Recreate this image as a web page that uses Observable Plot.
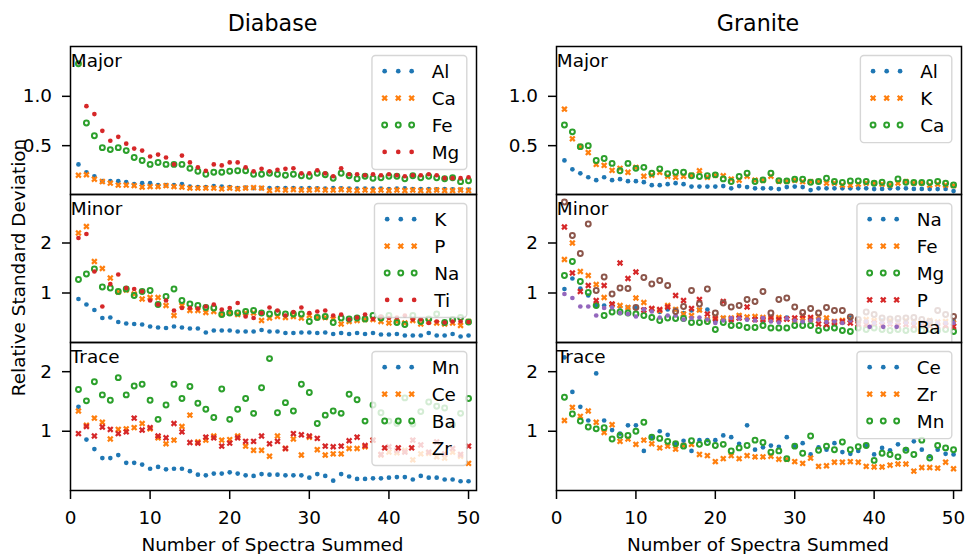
<!DOCTYPE html>
<html><head><meta charset="utf-8">
<script src="https://cdn.jsdelivr.net/npm/d3@7"></script>
<script src="https://cdn.jsdelivr.net/npm/@observablehq/plot@0.6"></script>
<style>
body{margin:0;background:#fff;}
#chart{position:relative;width:969px;height:554px;font-family:"DejaVu Sans",sans-serif;overflow:hidden;}
#chart svg{position:absolute;overflow:visible;}
</style></head><body><div id="chart"></div>
<script>
// ---------- data ----------
const spectra = [1,2,3,4,5,6,7,8,9,10,11,12,13,14,15,16,17,18,19,20,21,22,23,24,25,26,27,28,29,30,31,32,33,34,35,36,37,38,39,40,41,42,43,44,45,46,47,48,49,50];
const xTicks = [0,10,20,30,40,50];
const columnTitles = ["Diabase","Granite"];
const rowLabels = ["Major","Minor","Trace"];

// Diabase – Major
const dMajAl = [0.31,0.23,0.19,0.14,0.14,0.14,0.13,0.11,0.12,0.12,0.10,0.10,0.10,0.11,0.085,0.08,0.08,0.09,0.085,0.08,0.07,0.075,0.07,0.07,0.07,0.07,0.07,0.07,0.068,0.07,0.068,0.065,0.07,0.068,0.065,0.065,0.066,0.065,0.065,0.06,0.065,0.068,0.06,0.06,0.06,0.058,0.06,0.058,0.055,0.055];
const dMajCa = [0.20,0.205,0.16,0.136,0.12,0.10,0.10,0.095,0.08,0.085,0.085,0.095,0.085,0.08,0.07,0.07,0.07,0.07,0.062,0.07,0.062,0.07,0.075,0.07,0.045,0.055,0.05,0.055,0.05,0.05,0.055,0.05,0.05,0.055,0.05,0.045,0.05,0.045,0.05,0.045,0.05,0.045,0.05,0.045,0.045,0.05,0.045,0.045,0.05,0.045];
const dMajFe = [1.33,0.73,0.60,0.48,0.46,0.48,0.45,0.38,0.35,0.31,0.33,0.31,0.31,0.31,0.27,0.24,0.21,0.23,0.23,0.24,0.245,0.245,0.21,0.21,0.22,0.21,0.20,0.21,0.195,0.19,0.22,0.205,0.17,0.22,0.195,0.165,0.19,0.17,0.175,0.19,0.19,0.165,0.195,0.175,0.19,0.175,0.165,0.175,0.135,0.145];
const dMajMg = [null,0.90,0.82,0.65,0.55,0.59,0.52,0.47,0.45,0.39,0.41,0.38,0.31,0.40,0.33,0.28,0.245,0.31,0.30,0.33,0.33,0.28,0.24,0.265,0.24,0.255,0.265,0.27,0.22,0.22,0.25,0.22,0.19,0.27,0.21,0.21,0.20,0.21,0.20,0.21,0.20,0.19,0.20,0.20,0.21,0.20,0.17,0.17,0.17,0.18];
// Diabase – Minor
const dMinK = [0.88,0.77,0.66,0.50,0.51,0.42,0.39,0.38,0.37,0.33,0.31,0.30,0.33,0.31,0.29,0.29,0.21,0.25,0.25,0.25,0.23,0.23,0.23,0.26,0.23,0.23,0.20,0.20,0.21,0.21,0.20,0.21,0.18,0.20,0.18,0.20,0.18,0.20,0.17,0.17,0.18,0.15,0.15,0.15,0.20,0.15,0.15,0.18,0.13,0.15];
const dMinP = [2.20,2.33,1.63,1.49,1.30,1.02,1.06,0.98,0.88,0.91,0.91,0.75,0.55,0.75,0.65,0.65,0.61,0.63,0.57,0.60,0.57,0.60,0.60,0.45,0.50,0.53,0.51,0.53,0.50,0.55,0.51,0.51,0.48,0.38,0.43,0.45,0.47,0.47,0.43,0.40,0.43,0.40,0.45,0.38,0.43,0.40,0.38,0.40,0.35,0.43];
const dMinNa = [1.27,1.38,1.48,1.12,1.10,1.03,1.08,0.95,1.03,1.05,0.77,0.93,1.08,0.85,0.78,0.75,0.71,0.70,0.57,0.60,0.60,0.63,0.65,0.60,0.58,0.61,0.58,0.58,0.58,0.43,0.51,0.53,0.41,0.50,0.48,0.50,0.48,0.55,0.50,0.55,0.41,0.37,0.55,0.43,0.48,0.58,0.41,0.47,0.51,0.42];
const dMinTi = [2.10,2.18,1.43,0.73,1.18,1.37,1.10,1.08,1.03,0.85,0.77,0.85,0.65,0.70,0.70,0.69,0.73,0.77,0.67,0.70,0.80,0.53,0.50,0.60,0.71,0.65,0.55,0.62,0.71,0.60,0.63,0.65,0.55,0.57,0.47,0.51,0.57,0.48,0.53,0.50,0.51,0.55,0.47,0.47,0.40,0.43,0.41,0.43,0.43,0.42];
// Diabase – Trace
const dTrMn = [1.41,0.86,0.70,0.55,0.55,0.60,0.47,0.47,0.44,0.37,0.40,0.36,0.37,0.37,0.33,0.27,0.26,0.29,0.29,0.31,0.29,0.26,0.25,0.28,0.27,0.27,0.26,0.26,0.26,0.22,0.28,0.25,0.17,0.28,0.24,0.20,0.20,0.21,0.21,0.22,0.23,0.23,0.19,0.25,0.22,0.22,0.19,0.19,0.16,0.16];
const dTrCe = [1.34,1.10,1.22,1.15,0.87,1.03,1.04,1.06,1.13,1.04,0.89,0.79,0.85,1.08,1.27,0.82,0.85,0.92,0.85,0.86,0.92,0.75,0.68,0.68,0.58,0.92,0.71,0.87,0.60,0.90,0.69,0.60,0.62,0.62,0.71,0.71,0.74,0.85,0.60,0.65,0.64,0.68,0.52,0.62,0.63,0.57,0.55,0.65,0.58,0.46];
const dTrBa = [1.70,1.51,1.83,1.61,1.52,1.90,1.61,1.76,1.79,1.52,1.20,1.44,1.79,1.55,1.75,1.47,1.37,1.23,1.71,1.20,1.37,1.55,1.30,1.73,2.22,1.31,1.48,1.34,1.79,1.65,1.13,1.27,1.34,1.30,1.62,1.53,1.17,1.44,1.31,1.17,1.13,1.56,1.12,1.33,1.49,1.42,1.39,1.11,1.30,1.55];
const dTrZr = [0.96,1.08,0.92,1.07,1.03,0.96,0.99,1.22,1.02,1.06,0.92,0.89,1.13,0.99,0.81,0.80,0.90,0.89,0.75,0.80,0.89,0.83,0.83,0.92,0.79,0.83,0.71,0.96,0.94,0.92,0.88,0.75,0.74,0.75,0.84,0.90,0.76,0.85,0.61,0.74,0.68,0.65,0.85,0.77,0.65,0.82,0.62,0.71,0.61,0.75];
// Granite – Major
const gMajAl = [0.35,0.26,0.22,0.18,0.15,0.18,0.15,0.16,0.14,0.14,0.13,0.10,0.10,0.11,0.12,0.11,0.085,0.085,0.085,0.085,0.09,0.068,0.09,0.08,0.068,0.068,0.068,0.06,0.08,0.085,0.08,0.05,0.068,0.068,0.068,0.068,0.068,0.068,0.068,0.06,0.062,0.068,0.068,0.068,0.062,0.062,0.06,0.06,0.062,0.04];
const gMajK = [0.87,0.57,0.49,0.43,0.31,0.30,0.25,0.27,0.23,0.28,0.19,0.20,0.23,0.19,0.18,0.19,0.20,0.245,0.18,0.20,0.195,0.16,0.15,0.19,0.15,0.15,0.19,0.14,0.14,0.15,0.135,0.135,0.135,0.12,0.12,0.10,0.10,0.11,0.12,0.12,0.11,0.10,0.12,0.135,0.12,0.12,0.10,0.11,0.10,0.095];
const gMajCa = [0.71,0.64,0.49,0.50,0.35,0.37,0.32,0.245,0.32,0.27,0.28,0.22,0.265,0.215,0.23,0.23,0.195,0.187,0.195,0.204,0.163,0.136,0.187,0.221,0.136,0.153,0.221,0.146,0.143,0.16,0.16,0.129,0.136,0.17,0.136,0.126,0.143,0.143,0.136,0.119,0.129,0.109,0.163,0.129,0.126,0.126,0.126,0.136,0.119,0.102];
// Granite – Minor
const gMinNa = [1.08,1.29,1.09,0.95,0.75,0.75,0.78,0.73,0.71,0.70,0.67,0.65,0.62,0.67,0.67,0.60,0.65,0.66,0.67,0.43,0.50,0.45,0.55,0.47,0.51,0.42,0.51,0.50,0.51,0.45,0.42,0.47,0.48,0.47,0.38,0.41,0.51,0.38,0.45,0.42,0.45,0.40,0.43,0.40,0.42,0.40,0.43,0.40,0.42,0.45];
const gMinFe = [1.67,2.00,1.43,1.35,1.17,0.91,0.77,0.75,0.71,0.90,0.81,0.68,0.65,0.75,0.67,0.58,0.55,0.66,0.47,0.53,0.50,0.50,0.55,0.52,0.53,0.51,0.47,0.51,0.48,0.45,0.50,0.47,0.53,0.50,0.43,0.45,0.47,0.43,0.47,0.45,0.43,0.45,0.42,0.45,0.43,0.40,0.45,0.42,0.43,0.40];
const gMinMg = [1.35,1.63,1.23,1.01,0.75,0.55,0.62,0.62,0.60,0.58,0.55,0.51,0.45,0.50,0.49,0.49,0.41,0.41,0.43,0.27,0.41,0.35,0.35,0.31,0.31,0.35,0.30,0.30,0.30,0.35,0.35,0.35,0.25,0.30,0.30,0.25,0.23,0.30,0.27,0.30,0.27,0.25,0.27,0.25,0.27,0.25,0.27,0.25,0.27,0.23];
const gMinP = [2.32,1.40,1.03,1.15,0.85,1.15,0.78,1.60,1.29,1.42,0.66,0.69,0.67,0.72,0.95,0.85,0.69,0.87,0.58,0.49,0.83,0.47,0.50,0.72,0.47,0.47,0.51,0.47,0.48,0.50,0.55,0.51,0.38,0.37,0.41,0.43,0.40,0.38,0.37,0.40,0.36,0.38,0.35,0.37,0.35,0.37,0.35,0.33,0.35,0.33];
const gMinBa = [0.98,0.90,0.73,0.73,0.55,0.70,0.71,0.60,0.58,0.53,0.67,0.63,0.51,0.55,0.55,0.47,0.50,0.51,0.47,0.40,0.45,0.50,0.49,0.47,0.45,0.50,0.43,0.41,0.49,0.45,0.43,0.45,0.47,0.42,0.43,0.40,0.45,0.41,0.43,0.40,0.42,0.40,0.43,0.41,0.40,0.42,0.40,0.41,0.40,0.40];
const gMinTi = [2.82,2.15,1.79,2.38,1.05,1.32,0.98,1.10,1.09,0.71,1.31,1.18,1.25,1.15,0.63,0.73,1.05,0.78,1.08,0.60,0.80,0.72,0.75,0.87,0.83,1.03,0.60,0.87,0.90,0.72,0.61,0.69,0.60,0.71,0.65,0.65,0.52,0.47,0.62,0.57,0.50,0.48,0.49,0.50,0.51,0.47,0.43,0.65,0.57,0.53];
// Granite – Trace
const gTrCe = [2.24,1.66,1.41,1.18,1.97,1.18,1.02,0.96,1.10,1.10,0.67,0.90,1.00,0.94,0.79,0.84,0.67,0.85,0.85,0.85,0.93,0.90,0.79,1.10,0.69,0.73,0.76,0.74,0.90,0.75,0.80,0.61,0.73,0.69,0.80,0.65,0.62,0.67,0.76,0.61,0.72,0.68,0.78,0.70,0.83,0.69,0.58,0.69,0.62,0.61];
const gTrZr = [1.18,1.40,1.25,1.34,1.15,0.98,1.11,0.83,0.87,0.78,0.85,0.79,0.72,0.75,0.70,0.76,0.78,0.61,0.59,0.49,0.54,0.59,0.54,0.59,0.57,0.57,0.58,0.53,0.53,0.49,0.46,0.55,0.41,0.42,0.48,0.48,0.49,0.48,0.41,0.40,0.40,0.43,0.45,0.45,0.33,0.39,0.39,0.38,0.48,0.37];
const gTrMn = [1.57,1.29,1.17,1.07,1.04,1.06,0.87,0.93,0.93,1.00,1.15,0.90,0.88,0.83,0.79,0.75,0.84,0.78,0.81,0.76,0.78,0.67,0.72,0.76,0.85,0.81,0.65,0.67,0.54,0.75,0.63,0.92,0.68,0.75,0.69,0.82,0.69,0.74,0.76,0.51,0.63,0.61,0.57,0.68,0.61,0.85,0.55,0.76,0.72,0.69];

// ---------- styling ----------
const C = {blue:"#1f77b4", orange:"#ff7f0e", green:"#2ca02c", red:"#d62728", purple:"#9467bd", brown:"#8c564b"};
const FONT = "DejaVu Sans";
const FS = 18.4;
const FS_TITLE = 22.2;

// matplotlib-like filled "X" marker
const filledX = {
  draw(ctx, size) {
    const R = Math.sqrt(size / Math.PI) / 2;
    const v = [[-1,-2],[0,-1],[1,-2],[2,-1],[1,0],[2,1],[1,2],[0,1],[-1,2],[-2,1],[-1,0],[-2,-1]];
    ctx.moveTo(v[0][0]*R, v[0][1]*R);
    for (let i = 1; i < v.length; i++) ctx.lineTo(v[i][0]*R, v[i][1]*R);
    ctx.closePath();
  }
};
const MK = {
  dot:  {r: 2.35},
  x:    {r: 3.2},
  ring: {r: 2.45, sw: 2}
};

const panels = [
  {col:0,row:0,y:[0.005,1.505],ticks:[0.5,1.0],fmt:".1f",series:[["Al",dMajAl,"dot",C.blue],["Ca",dMajCa,"x",C.orange],["Fe",dMajFe,"ring",C.green],["Mg",dMajMg,"dot",C.red]]},
  {col:0,row:1,y:[0.01,2.97],ticks:[1,2],fmt:"d",series:[["K",dMinK,"dot",C.blue],["P",dMinP,"x",C.orange],["Na",dMinNa,"ring",C.green],["Ti",dMinTi,"dot",C.red]]},
  {col:0,row:2,y:[0.005,2.49],ticks:[1,2],fmt:"d",series:[["Mn",dTrMn,"dot",C.blue],["Ce",dTrCe,"x",C.orange],["Ba",dTrBa,"ring",C.green],["Zr",dTrZr,"x",C.red]]},
  {col:1,row:0,y:[0.005,1.505],ticks:[0.5,1.0],fmt:".1f",series:[["Al",gMajAl,"dot",C.blue],["K",gMajK,"x",C.orange],["Ca",gMajCa,"ring",C.green]]},
  {col:1,row:1,y:[0.01,2.97],ticks:[1,2],fmt:"d",series:[["Na",gMinNa,"dot",C.blue],["Fe",gMinFe,"x",C.orange],["Mg",gMinMg,"ring",C.green],["P",gMinP,"x",C.red],["Ba",gMinBa,"dot",C.purple],["Ti",gMinTi,"ring",C.brown]]},
  {col:1,row:2,y:[0.005,2.49],ticks:[1,2],fmt:"d",series:[["Ce",gTrCe,"dot",C.blue],["Zr",gTrZr,"x",C.orange],["Mn",gTrMn,"ring",C.green]]}
];

const colLeft = [69.5, 555.5], colW = [406, 405];
const rowTop = [45.5, 193.5, 341.5], rowH = 148;
const ML = 60, MR = 6, MT = 6;

const chart = document.getElementById("chart");

function dotMark(data, kind, color) {
  if (kind === "dot") return Plot.dot(data, {x:"x", y:"v", r:MK.dot.r, fill:color, stroke:"none"});
  if (kind === "x") return Plot.dot(data, {x:"x", y:"v", r:MK.x.r, symbol:filledX, fill:color, stroke:"none"});
  return Plot.dot(data, {x:"x", y:"v", r:MK.ring.r, fill:"none", stroke:color, strokeWidth:MK.ring.sw});
}

panels.forEach((p, pi) => {
  const bottom = p.row === 2;
  const MB = bottom ? 64 : 6;
  const W = ML + colW[p.col] + MR;
  const H = MT + rowH + MB;
  const marks = [
    Plot.axisY({ticks:p.ticks, tickFormat:d3.format(p.fmt), tickSize:8, tickPadding:10.5, strokeWidth:1.5, fontSize:FS, label:null, fill:"black", stroke:"black"})
  ];
  if (bottom) marks.push(Plot.axisX({ticks:xTicks, tickSize:9, tickPadding:11.5, strokeWidth:1.5, fontSize:FS, label:null, fill:"black", stroke:"black"}));
  p.series.forEach(([name, vals, kind, color]) => {
    const data = spectra.map((x, i) => ({x, v: vals[i]})).filter(d => d.v != null);
    marks.push(dotMark(data, kind, color));
  });
  marks.push(Plot.text([rowLabels[p.row]], {text:d => d, frameAnchor:"top-left", textAnchor:"start", lineAnchor:"top", dx:0.3, dy:7.3, fontSize:FS, fill:"black"}));
  marks.push(Plot.frame({stroke:"black", strokeWidth:1.5}));
  const svg = Plot.plot({
    width: W, height: H,
    marginLeft: ML, marginRight: MR, marginTop: MT, marginBottom: MB,
    style: {background:"transparent", fontFamily:FONT, fontSize:FS+"px", overflow:"visible", color:"black"},
    x: {domain:[0, 51], axis: bottom ? undefined : null},
    y: {domain:p.y},
    marks
  });
  svg.style.position = "absolute";
  svg.style.left = (colLeft[p.col] - ML) + "px";
  svg.style.top = (rowTop[p.row] - MT) + "px";
  svg.style.maxWidth = "none";
  chart.appendChild(svg);

  // legend (inside the frame, clipped to it)
  const s = d3.select(svg);
  const frameEl = svg.querySelector('[aria-label="frame"]');
  const fx0 = ML, fy0 = MT, fx1 = ML + colW[p.col], fy1 = MT + rowH;
  const clipId = "clip" + pi;
  s.append("defs").append("clipPath").attr("id", clipId)
    .append("rect").attr("x", fx0).attr("y", fy0).attr("width", fx1 - fx0).attr("height", fy1 - fy0);
  const g = s.append("g").attr("clip-path", `url(#${clipId})`).attr("text-anchor", "start");
  let maxW = 0;
  const tmp = g.append("g");
  p.series.forEach(([name]) => {
    const t = tmp.append("text").attr("font-family", FONT).attr("font-size", FS).text(name);
    maxW = Math.max(maxW, t.node().getComputedTextLength());
  });
  tmp.remove();
  const boxW = 59.8 + maxW + 7.5;
  const boxX = fx1 - 9.2 - boxW;
  const boxY = fy0 + 9.5;
  const step = 26.9;
  const n = p.series.length;
  const boxH = 15.7 + (n - 1) * step + 17.6;
  g.append("rect").attr("x", boxX).attr("y", boxY).attr("width", boxW).attr("height", boxH)
    .attr("rx", 3.5).attr("fill", "white").attr("fill-opacity", 0.8)
    .attr("stroke", "#cccccc").attr("stroke-opacity", 0.8).attr("stroke-width", 1.4);
  p.series.forEach(([name, vals, kind, color], k) => {
    const cy = boxY + 15.7 + k * step;
    if (cy - 8 > fy1) return; // entry falls entirely outside the panel (clipped)
    [12.7, 26.3, 39.7].forEach(dx => {
      const cx = boxX + dx;
      if (kind === "dot") g.append("circle").attr("cx", cx).attr("cy", cy).attr("r", MK.dot.r).attr("fill", color);
      else if (kind === "ring") g.append("circle").attr("cx", cx).attr("cy", cy).attr("r", MK.ring.r).attr("fill", "none").attr("stroke", color).attr("stroke-width", MK.ring.sw);
      else g.append("path").attr("transform", `translate(${cx},${cy})`).attr("d", d3.symbol(filledX, Math.PI * MK.x.r * MK.x.r)()).attr("fill", color);
    });
    g.append("text").attr("x", boxX + 59.8).attr("y", cy + 6.8).attr("text-anchor", "start")
      .attr("font-family", FONT).attr("font-size", FS).attr("fill", "black").text(name);
  });
  if (frameEl) frameEl.parentNode.insertBefore(g.node(), frameEl);
});

// overlay for titles and axis labels
const ov = d3.select(chart).append("svg").attr("width", 969).attr("height", 554)
  .style("left", "0px").style("top", "0px").style("pointer-events", "none");
columnTitles.forEach((t, i) => {
  const cx = colLeft[i] + colW[i] / 2;
  ov.append("text").attr("x", cx).attr("y", 30.7).attr("text-anchor", "middle")
    .attr("font-family", FONT).attr("font-size", FS_TITLE).attr("fill", "black").text(t);
  ov.append("text").attr("x", cx).attr("y", 551).attr("text-anchor", "middle")
    .attr("font-family", FONT).attr("font-size", FS).attr("fill", "black").text("Number of Spectra Summed");
});
ov.append("text").attr("transform", "translate(25,267.5) rotate(-90)").attr("text-anchor", "middle")
  .attr("font-family", FONT).attr("font-size", FS).attr("fill", "black").text("Relative Standard Deviation");
</script></body></html>
